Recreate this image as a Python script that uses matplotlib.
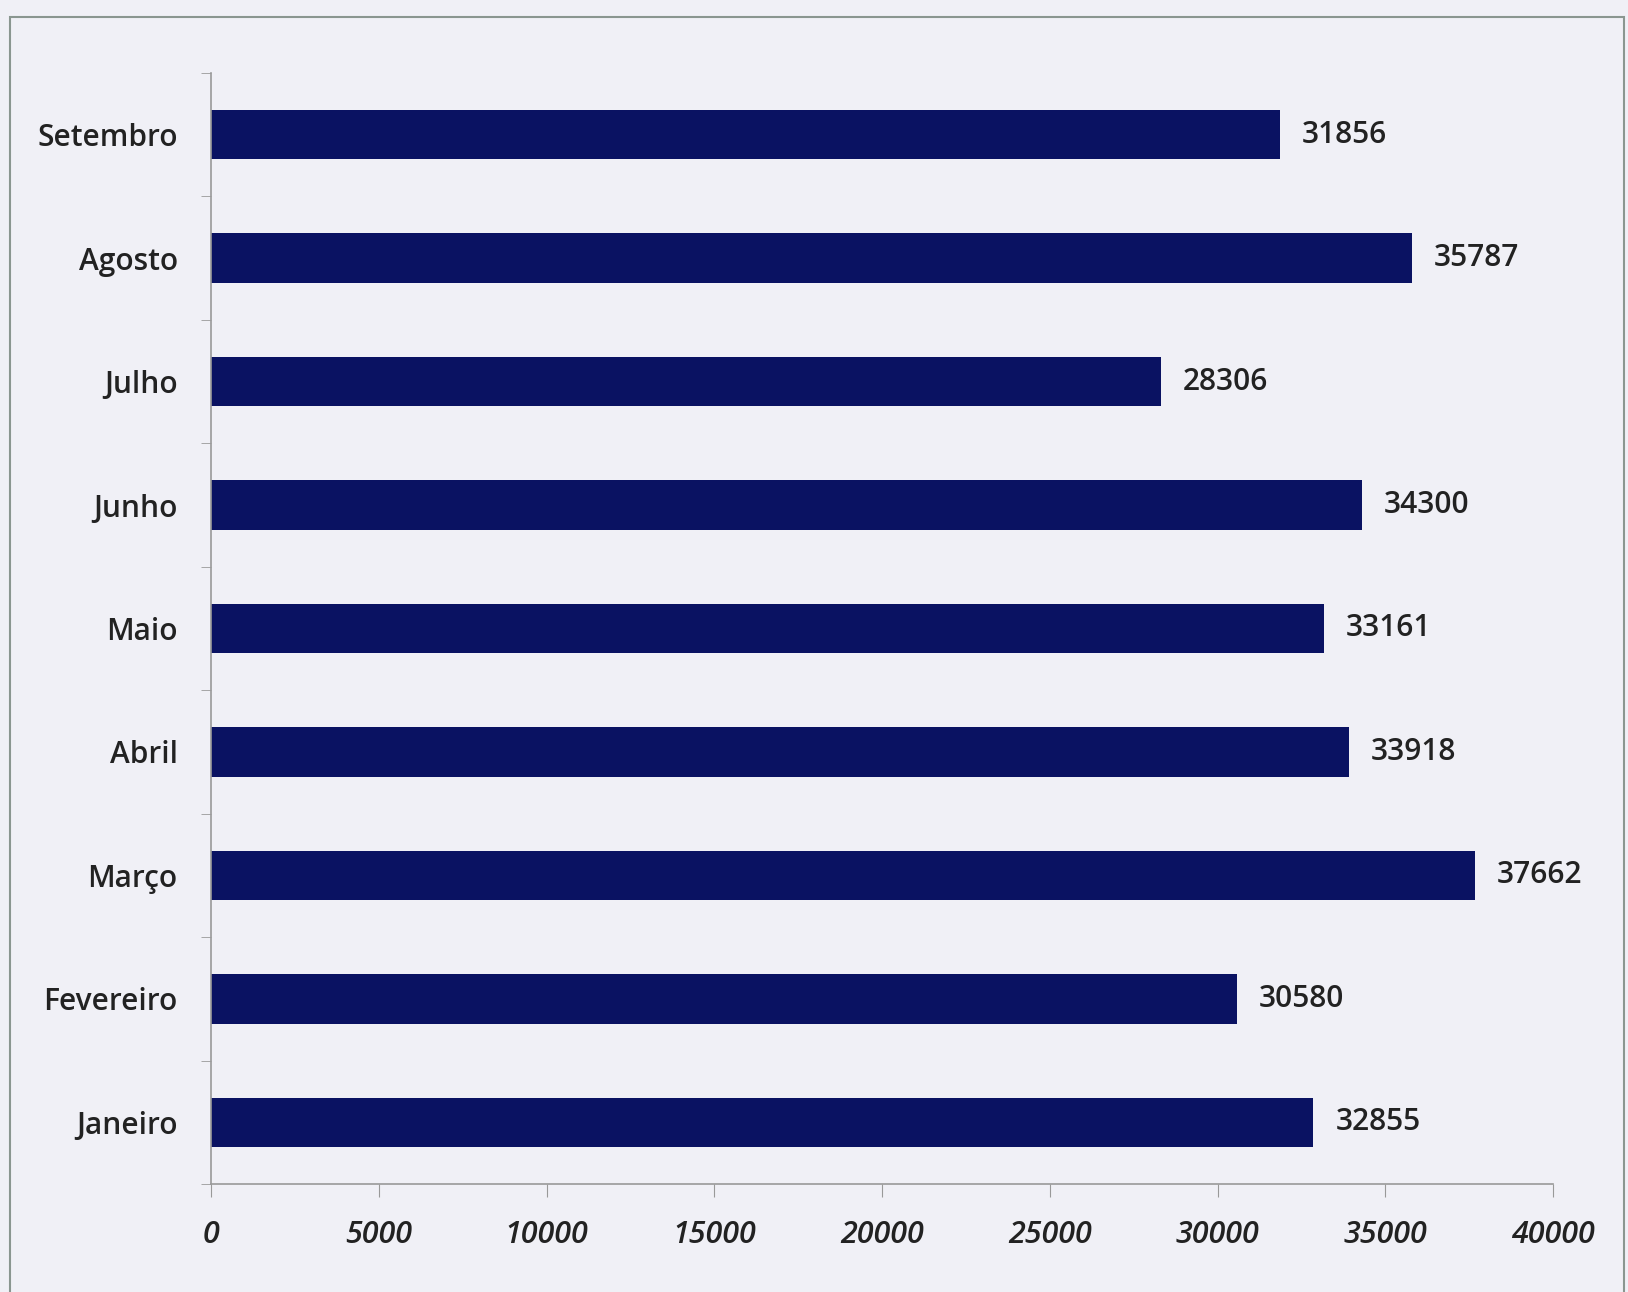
import matplotlib.pyplot as plt
import matplotlib.patches as patches
import numpy as np

plt.rcParams['font.family'] = ['Open Sans', 'DejaVu Sans']

# dados
meses = ['Janeiro', 'Fevereiro', 'Março', 'Abril', 'Maio', 'Junho', 'Julho', 'Agosto', 'Setembro']
valores = [32855, 30580, 37662, 33918, 33161, 34300, 28306, 35787, 31856]
xticks = [0, 5000, 10000, 15000, 20000, 25000, 30000, 35000, 40000]

bg = '#f0f0f6'
txt = '#222222'
fig = plt.figure(figsize=(16.28, 12.92), dpi=100, facecolor=bg)
ax = fig.add_axes([211/1628, 1 - 1184/1292, (1553 - 211)/1628, (1184 - 73)/1292])
ax.set_facecolor(bg)

ind = np.arange(len(meses))
bars = ax.barh(ind, valores, height=0.40, color='#0a1262')
ax.bar_label(bars, labels=[str(v) for v in valores], padding=16, fontsize=21.5,
             fontweight='semibold', color=txt)

ax.set_xlim(0, 40000)
ax.set_ylim(-0.5, len(meses) - 0.5)
ax.set_xticks(xticks)
ax.set_xticklabels([str(t) for t in xticks], fontsize=22, style='italic', fontweight='semibold', color=txt)
ax.set_yticks(ind)
ax.set_yticklabels(meses, fontsize=21.5, fontweight='semibold', color=txt)
ax.set_yticks(np.arange(-0.5, len(meses)), minor=True)
ax.tick_params(axis='y', which='major', length=0, pad=24)
ax.tick_params(axis='y', which='minor', length=7, color='#999999', direction='out')
ax.tick_params(axis='x', length=9, color='#999999', pad=17)

for s in ['top', 'right']:
    ax.spines[s].set_visible(False)
for s in ['left', 'bottom']:
    ax.spines[s].set_color('#999999')
    ax.spines[s].set_linewidth(1.2)

# moldura
moldura = patches.Rectangle((10/1628, -0.01), (1624 - 10)/1628, 1 - 17/1292 + 0.01,
                            transform=fig.transFigure, fill=False, edgecolor='#8a9690', linewidth=1.5)
fig.patches.append(moldura)

plt.savefig('out.png', dpi=100, facecolor=bg)
